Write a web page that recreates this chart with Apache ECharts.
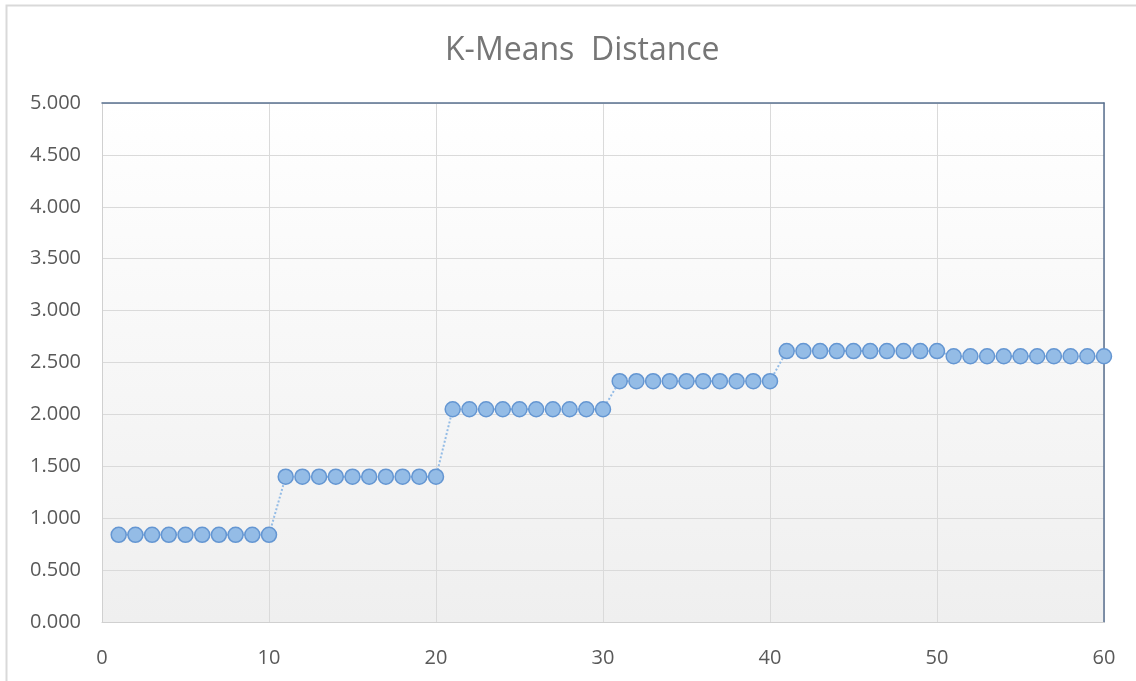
<!DOCTYPE html>
<html>
<head>
<meta charset="utf-8">
<script src="https://cdn.jsdelivr.net/npm/echarts@6/dist/echarts.min.js"></script>
<style>
html,body{margin:0;padding:0;background:#fff;}
#c{width:1136px;height:681px;}
</style>
</head>
<body>
<div id="c"></div>
<script>
const xValues = [];
for (let i = 1; i <= 60; i++) xValues.push(i);
const distances = [
  0.84,0.84,0.84,0.84,0.84,0.84,0.84,0.84,0.84,0.84,
  1.40,1.40,1.40,1.40,1.40,1.40,1.40,1.40,1.40,1.40,
  2.05,2.05,2.05,2.05,2.05,2.05,2.05,2.05,2.05,2.05,
  2.32,2.32,2.32,2.32,2.32,2.32,2.32,2.32,2.32,2.32,
  2.61,2.61,2.61,2.61,2.61,2.61,2.61,2.61,2.61,2.61,
  2.56,2.56,2.56,2.56,2.56,2.56,2.56,2.56,2.56,2.56
];
const titleText = 'K-Means  Distance';

const chart = echarts.init(document.getElementById('c'));
const labelStyle = {color:'#595959', fontSize:20, fontFamily:'Open Sans, Noto Sans, sans-serif'};
chart.setOption({
  animation:false,
  title:{text:titleText, left:440, top:30,
    textStyle:{color:'#767676', fontSize:32, fontWeight:'normal', fontFamily:'Open Sans, Noto Sans, sans-serif'}},
  graphic:[{type:'rect', shape:{x:6.5,y:5.5,width:1200,height:800}, style:{fill:'none', stroke:'#d9d9d9', lineWidth:2}, silent:true, z:-10}],
  grid:{left:102, right:32, top:103, bottom:59, show:true, borderWidth:0,
    backgroundColor:{type:'linear', x:0, y:0, x2:0, y2:1,
      colorStops:[{offset:0,color:'#ffffff'},{offset:1,color:'#efefef'}]}},
  xAxis:[{type:'value', min:0, max:60, interval:10,
    axisLine:{show:true, onZero:false, lineStyle:{color:'#d0d0d0', width:1}},
    axisTick:{show:false},
    splitLine:{show:true, lineStyle:{color:'#dadada', width:1}},
    axisLabel:Object.assign({margin:26}, labelStyle)},
   {type:'value', position:'top', min:0, max:60,
    axisLine:{show:true, onZero:false, lineStyle:{color:'#5a7190', width:1.5}},
    axisTick:{show:false}, axisLabel:{show:false}, splitLine:{show:false}}],
  yAxis:[{type:'value', min:0, max:5, interval:0.5,
    axisLine:{show:true, onZero:false, lineStyle:{color:'#d0d0d0', width:1}},
    axisTick:{show:false},
    splitLine:{show:true, lineStyle:{color:'#dadada', width:1}},
    axisLabel:Object.assign({margin:21, formatter:v=>v.toFixed(3)}, labelStyle)},
   {type:'value', position:'right', min:0, max:5,
    axisLine:{show:true, onZero:false, lineStyle:{color:'#5a7190', width:1.5}},
    axisTick:{show:false}, axisLabel:{show:false}, splitLine:{show:false}}],
  series:[{type:'line', xAxisIndex:0, yAxisIndex:0,
    data:xValues.map((x,i)=>[x,distances[i]]),
    symbol:'circle', symbolSize:15,
    itemStyle:{color:'#94bce6', borderColor:'#6496d2', borderWidth:1.5},
    lineStyle:{color:'#94bce6', width:2, type:[2,2]},
    clip:false, z:5}]
});
</script>
</body>
</html>
